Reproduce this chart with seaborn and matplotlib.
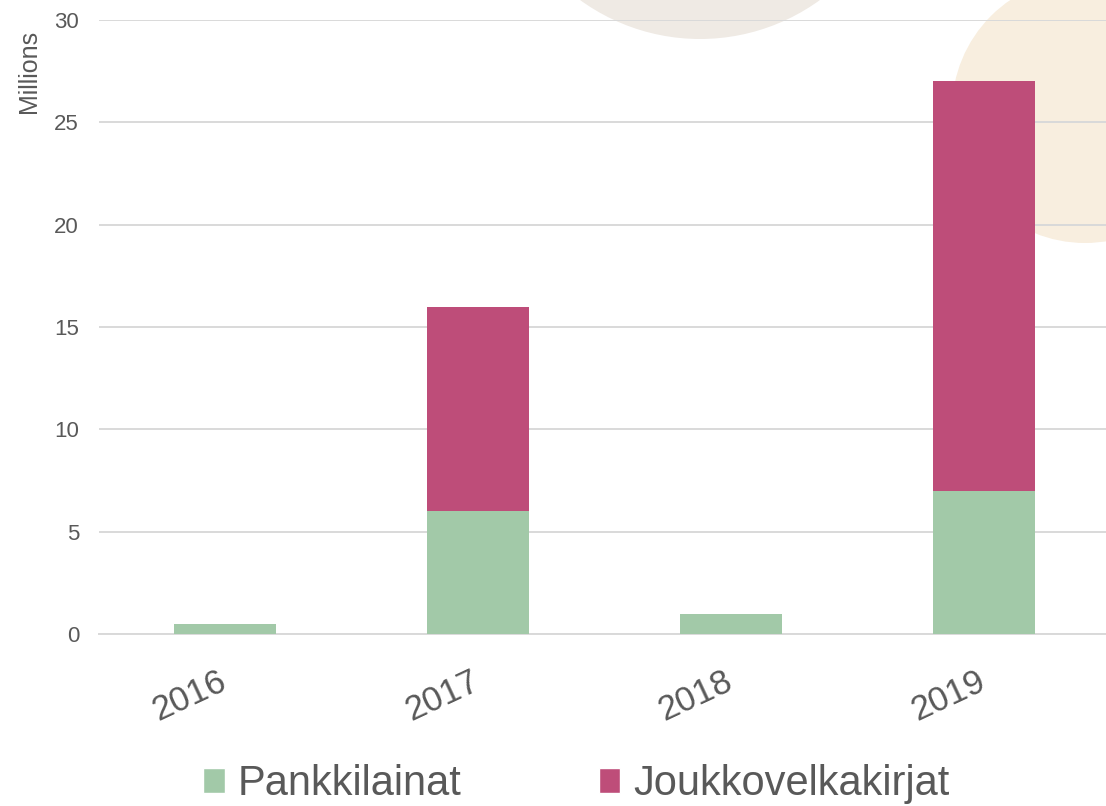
import matplotlib
matplotlib.use("Agg")
import matplotlib.pyplot as plt
import matplotlib.transforms as mtransforms
from matplotlib.patches import Circle, Patch
import seaborn as sns

years = ["2016", "2017", "2018", "2019"]
pankkilainat = [0.5, 6, 1, 7]
joukkovelkakirjat = [0, 10, 0, 20]
y_ticks = [0, 5, 10, 15, 20, 25, 30]

GREEN = "#A2C9A8"
PINK = "#BE4D79"
TEXT = "#595959"
GRID = "#D9D9D9"

sns.set_theme(style="white")
plt.rcParams["font.family"] = ["Liberation Sans", "DejaVu Sans"]

totals = [a + b for a, b in zip(pankkilainat, joukkovelkakirjat)]

fig = plt.figure(figsize=(11.06, 8.06), dpi=100)

# decorative background circles
for (cx, cy, r, col) in [(7.00, 9.71, 2.04, "#EFEAE4"), (10.85, 6.96, 1.33, "#F8EEDF")]:
    fig.patches.append(Circle((cx, cy), r, transform=fig.dpi_scale_trans,
                              facecolor=col, edgecolor="none", zorder=-5))

ax = fig.add_axes([98.5 / 1106, 1 - 634 / 806, 1012 / 1106, 614 / 806])
ax.set_facecolor("none")

# stacked: draw totals in pink, then the green part over it
sns.barplot(x=years, y=totals, color=PINK, saturation=1, width=0.4,
            linewidth=0, ax=ax, zorder=3)
sns.barplot(x=years, y=pankkilainat, color=GREEN, saturation=1, width=0.4,
            linewidth=0, ax=ax, zorder=3)

ax.set_xlim(-0.5, 3.5)
ax.set_ylim(0, 30)
ax.set_yticks(y_ticks)
ax.yaxis.grid(True, color=GRID, linewidth=1.4)
ax.set_axisbelow(True)
for s in ["top", "right", "left"]:
    ax.spines[s].set_visible(False)
ax.spines["bottom"].set_color(GRID)
ax.spines["bottom"].set_linewidth(1.4)

ax.tick_params(axis="y", length=0, pad=14, labelsize=16, labelcolor=TEXT)
ax.tick_params(axis="x", length=0, pad=22, labelsize=25, labelcolor=TEXT)
shift = mtransforms.ScaledTranslation(6 / 100, 0, fig.dpi_scale_trans)
for lbl in ax.get_xticklabels():
    lbl.set_rotation(25)
    lbl.set_ha("right")
    lbl.set_transform(lbl.get_transform() + shift)

ax.set_xlabel("")
ax.set_ylabel("Millions", fontsize=18, color=TEXT, labelpad=4)
ax.yaxis.set_label_coords(-0.057, 1.0 - 10 / 614, transform=ax.transAxes)
ax.yaxis.label.set_va("bottom")
ax.yaxis.label.set_ha("right")

handles = [Patch(facecolor=GREEN, label="Pankkilainat"),
           Patch(facecolor=PINK, label="Joukkovelkakirjat")]
fig.legend(handles=handles, loc="center", bbox_to_anchor=(0.521, 0.027),
           ncol=2, frameon=False, fontsize=30, labelcolor=TEXT,
           handlelength=0.52, handleheight=0.52, handletextpad=0.3,
           columnspacing=3.3, borderaxespad=0, borderpad=0)

fig.savefig("out.png", dpi=100)
